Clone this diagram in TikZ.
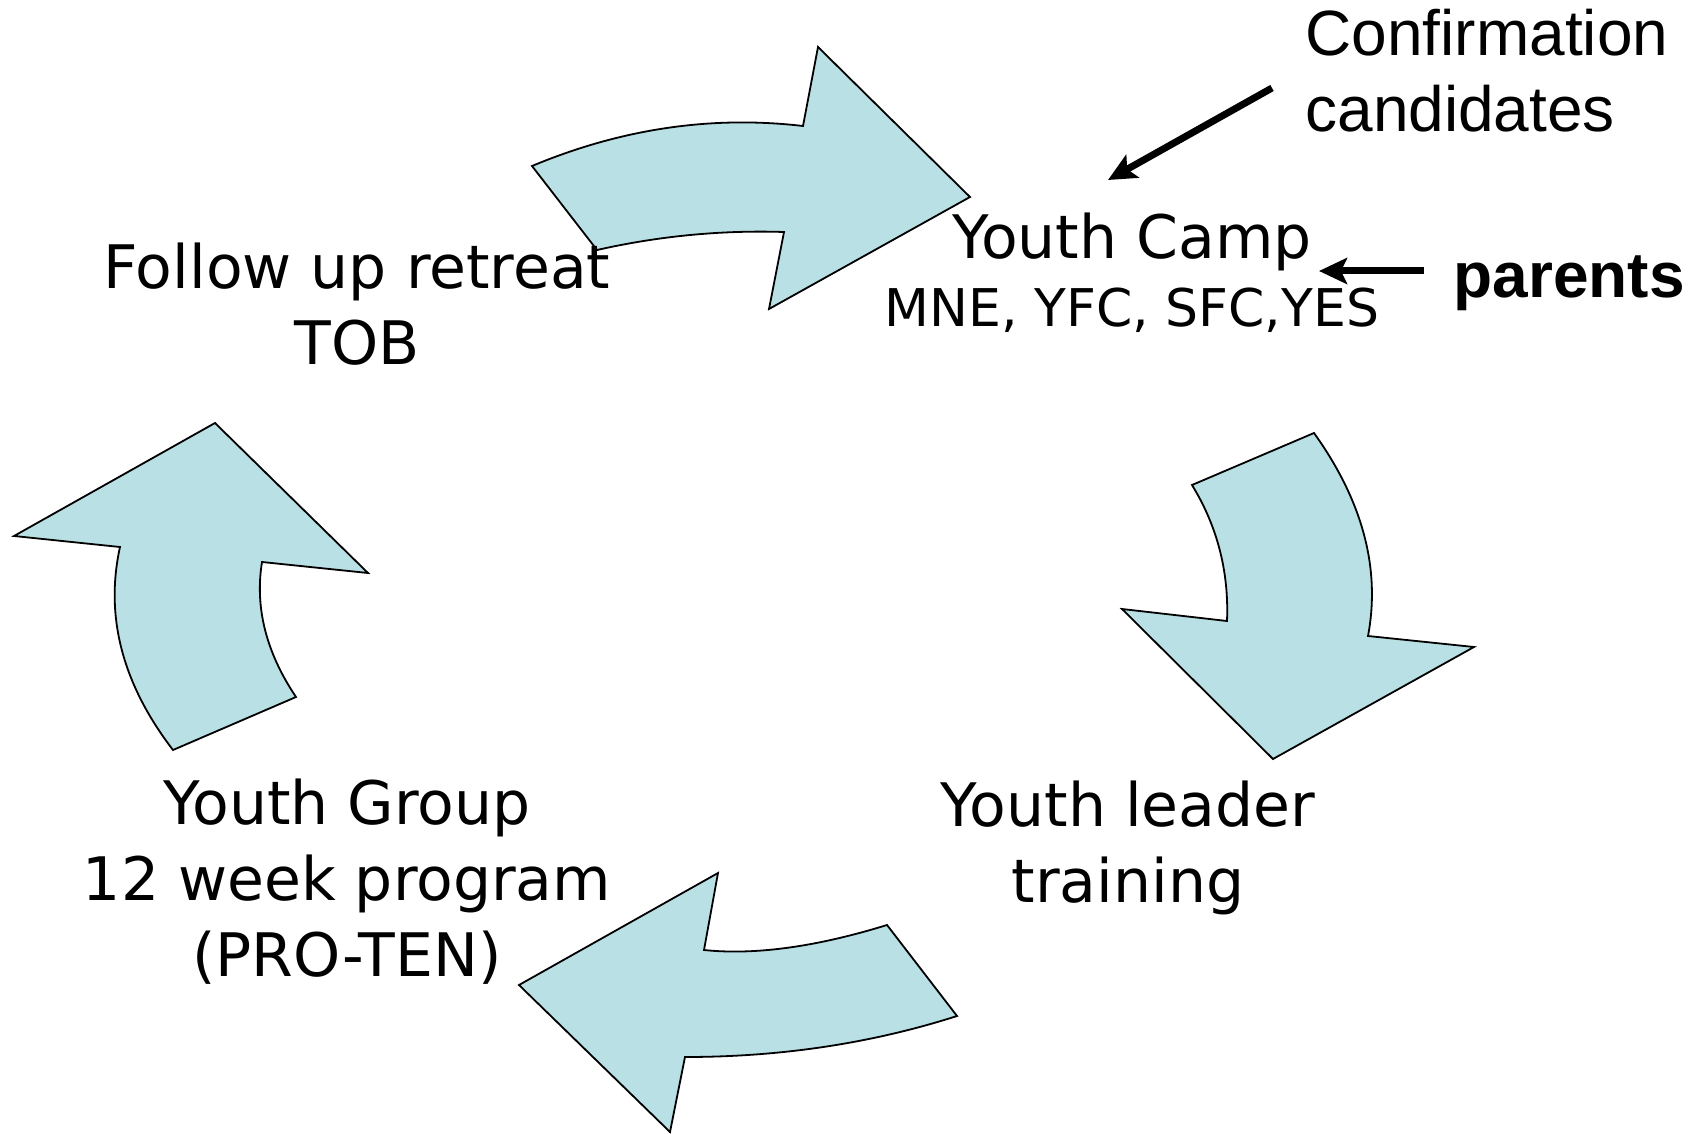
\documentclass[tikz,border=0pt]{standalone}
\usepackage{fontspec}
\setmainfont{Liberation Sans}
\newfontfamily\stagefont{DejaVu Sans}
\usetikzlibrary{arrows.meta}
\definecolor{cycleblue}{RGB}{185,224,228}

\begin{document}
\begin{tikzpicture}
[x=0.5pt,y=-0.5pt,%
  bigarrow/.style={fill=cycleblue,draw=black,line width=0.9pt,line join=miter},%
  pointer/.style={-{Stealth[length=14pt,width=13pt,inset=3pt]},line width=3.5pt},%
  stage/.style={font=\stagefont\fontsize{30}{38}\selectfont,align=center,inner sep=0pt,anchor=base},%
  note/.style={font=\fontsize{32}{38}\selectfont,align=left,inner sep=0pt,anchor=base west}]
\useasboundingbox (0,0) rectangle (1691,1134);
% the four curved arrows of the cycle
\draw[bigarrow] (532,166) .. controls (621.3,128.7) and (711.7,115.3) .. (803,126) -- (818,47)
  -- (970,197) -- (769,309) -- (784,232) .. controls (721.3,230) and (659,236) .. (597,250) -- cycle;
\draw[bigarrow] (1314,433) .. controls (1362.7,501) and (1380.7,568.7) .. (1368,636) -- (1474,647)
  -- (1273,759) -- (1122,609) -- (1227,621) .. controls (1229,571.7) and (1217.3,526.3) .. (1192,485) -- cycle;
\draw[bigarrow] (957,1016) .. controls (871.7,1043.3) and (781,1057) .. (685,1057) -- (670,1132)
  -- (519,985) -- (718,873) -- (704,950) .. controls (754.7,955.3) and (815.7,947) .. (887,925) -- cycle;
\draw[bigarrow] (173,750) .. controls (122.3,684) and (104.7,616.3) .. (120,547) -- (14,536)
  -- (215,423) -- (368,573) -- (262,562) .. controls (254.7,607.3) and (266,652.3) .. (296,697) -- cycle;
% stages (base = last line)
\node[stage] (retreat) at (357,364) {Follow up retreat\\TOB};
\node[stage] (camp) at (1132,259) {Youth Camp};
\node[stage,font=\stagefont\fontsize{26}{30}\selectfont] (campsub) at (1132,326) {MNE, YFC, SFC,YES};
\node[stage] (leader) at (1128,902) {Youth leader\\training};
\node[stage] (group) at (347,976) {Youth Group\\12 week program\\(PRO-TEN)};
% inputs to the camp
\node[note] (confirm) at (1305,132) {Confirmation\\candidates};
\node[note,font=\bfseries\fontsize{32}{38}\selectfont] (parents) at (1453,297) {parents};
\coordinate (conftail) at (1272,88);
\coordinate (conftip) at (1108,180);
\coordinate (partail) at (1424,271);
\coordinate (partip) at (1319,271);
\draw[pointer] (conftail) -- (conftip);
\draw[pointer] (partail) -- (partip);
\end{tikzpicture}
\end{document}
